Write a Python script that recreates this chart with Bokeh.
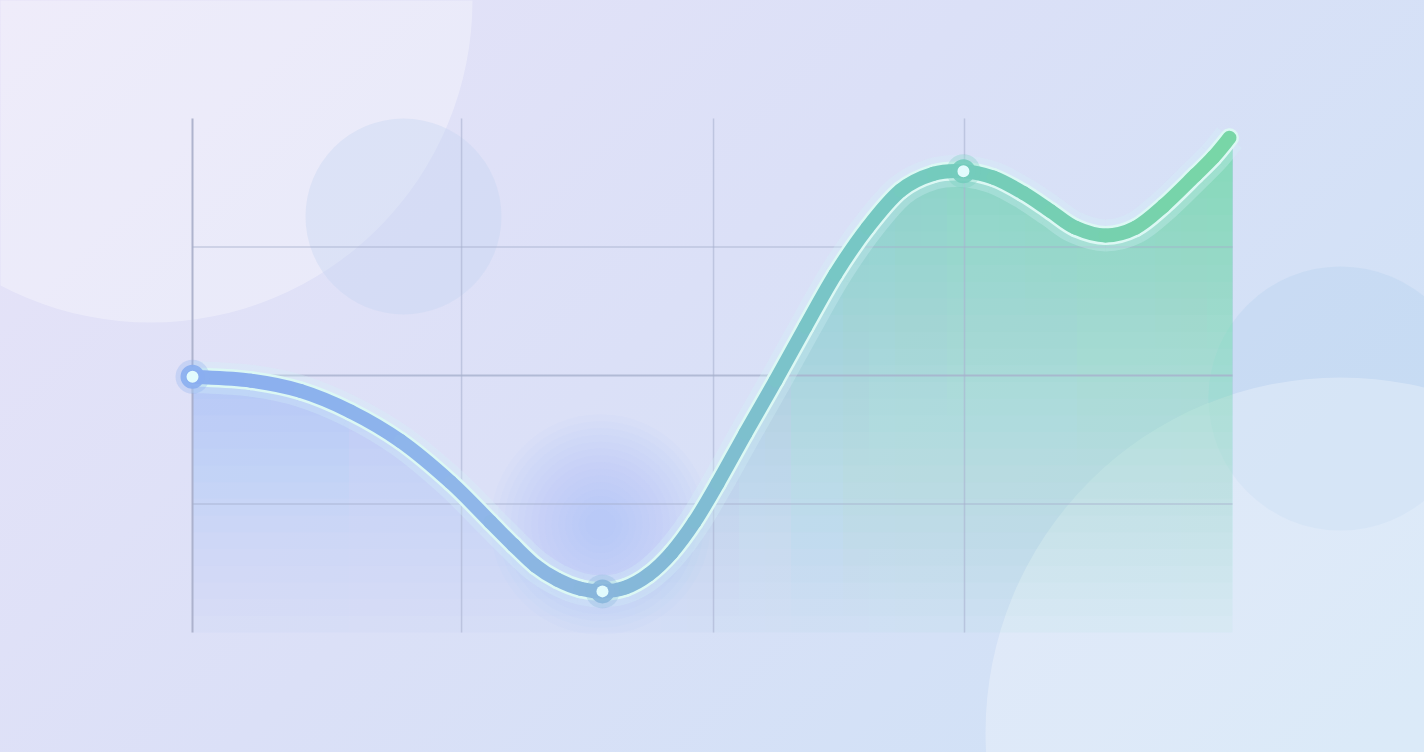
import numpy as np
from bokeh.plotting import figure
from bokeh.models import Range1d, GlobalInlineStyleSheet
from bokeh.embed import file_html
from bokeh.resources import INLINE

# ---------------- data ----------------
x_vals = [0.00, 5.58, 10.38, 15.19, 20.00, 24.81, 28.65, 30.87, 32.98, 35.10, 37.31,
          39.42, 41.63, 43.85, 46.06, 48.27, 50.48, 53.17, 56.06, 58.94, 61.83,
          64.90, 68.08, 71.25, 74.13, 77.02, 79.90, 82.50, 84.90, 87.79, 90.67,
          93.37, 96.44, 98.17, 99.71]
y_vals = [1.99, 1.96, 1.88, 1.72, 1.49, 1.17, 0.86, 0.68, 0.52, 0.41, 0.34,
          0.32, 0.35, 0.45, 0.62, 0.86, 1.16, 1.55, 1.96, 2.38, 2.79,
          3.15, 3.44, 3.57, 3.59, 3.54, 3.42, 3.28, 3.15, 3.09, 3.15,
          3.32, 3.56, 3.70, 3.85]
marker_x = [0.0, 39.42, 74.13]
marker_y = [1.99, 0.32, 3.59]
grid_x = [0.0, 25.87, 50.10, 74.23]
grid_y = [1, 2, 3]
y_min, y_max = 0, 4
x_min, x_max = 0, 100

# ---------------- layout ----------------
W, H = 1424, 752
PX_X, PX_Y = 10.4, 128.5      # pixels per data unit
X0, Y0 = 192, 632             # page pixel of the data origin

p = figure(width=W, height=H, output_backend="svg", toolbar_location=None,
           x_range=Range1d(-X0 / PX_X, (W - X0) / PX_X),
           y_range=Range1d(-(H - Y0) / PX_Y, Y0 / PX_Y),
           x_axis_type=None, y_axis_type=None, min_border=0,
           background_fill_color=None, border_fill_color=None,
           outline_line_color=None)
p.grid.visible = False
p.stylesheets = [GlobalInlineStyleSheet(css=(
    "body{background:linear-gradient(135deg,#e7e3f8 0%,#dbe0f7 45%,#cde2f6 100%) fixed;}"))]


def sx(X):   # page pixel -> data x
    return (X - X0) / PX_X


def sy(Y):   # page pixel -> data y
    return (Y0 - Y) / PX_Y


def hex2rgb(h):
    return [int(h[i:i + 2], 16) for i in (1, 3, 5)]


def mix(stops, x):
    xs = [s[0] for s in stops]
    cols = [hex2rgb(s[1]) for s in stops]
    rgb = [np.interp(x, xs, [c[k] for c in cols]) for k in range(3)]
    return "#%02x%02x%02x" % tuple(int(round(v)) for v in rgb)


line_stops = [(0, "#8aaef0"), (26, "#8fb6ea"), (39.4, "#88b6dc"), (50, "#80bcd2"),
              (61.5, "#78c6c6"), (74, "#74ccbc"), (87, "#76d0b0"), (100, "#78d6a6")]
fill_stops = [(0, "#88b4f4"), (26, "#96b8f2"), (40, "#9ab6f0"), (50, "#86c4e2"),
              (60, "#7cd2cc"), (74, "#78dabe"), (100, "#74e0b0")]

# ---------------- decorative background circles ----------------
decor = [(150, 0, 322, "#ffffff", 0.32),
         (403, 216, 98, "#c2d4f2", 0.35),
         (1340, 398, 132, "#b4d0ee", 0.35),
         (1340, 732, 355, "#ffffff", 0.28)]
for X, Y, r, c, a in decor:
    p.scatter([sx(X)], [sy(Y)], size=2 * r, marker="circle",
              fill_color=c, fill_alpha=a, line_color=None)

# soft purple glow inside the dip
for d in np.linspace(220, 30, 15):
    p.scatter([sx(600)], [sy(524)], size=float(d), marker="circle",
              fill_color="#a8aef4", fill_alpha=0.045, line_color=None)

# ---------------- area fill ----------------
xa_arr = np.array(x_vals)
ya_arr = np.array(y_vals)


def clip_above(poly, L):
    out = []
    n = len(poly)
    for i in range(n):
        cx, cy = poly[i]
        px, py = poly[i - 1]
        cin, pin = cy >= L, py >= L
        if cin:
            if not pin:
                t = (L - py) / (cy - py)
                out.append((px + t * (cx - px), L))
            out.append((cx, cy))
        elif pin:
            t = (L - py) / (cy - py)
            out.append((px + t * (cx - px), L))
    return out


n_lev = 30
step = 3.9 / n_lev
levels = [y_min + k * step for k in range(n_lev)]
targets = [0.06 + 0.72 * (lv / 3.8) for lv in levels]
alphas = []
prev = 0.0
for A in targets:
    alphas.append(1 - (1 - A) / (1 - prev))
    prev = A

# column edges on half-pixel positions (avoids seams between neighbours)
edge_px = [192] + [192 + 26 * k + 0.5 for k in range(1, 40)] + [1232]
edges = [sx(e) for e in edge_px]
pxs, pys, pcs, pas = [], [], [], []
for k, L in enumerate(levels):
    for j in range(len(edges) - 1):
        a0, a1 = edges[j], edges[j + 1]
        pts = [(a0, L - 1), (a0, float(np.interp(a0, xa_arr, ya_arr)))]
        pts += [(x, y) for x, y in zip(x_vals, y_vals) if a0 < x < a1]
        pts += [(a1, float(np.interp(a1, xa_arr, ya_arr))), (a1, L - 1)]
        poly = clip_above(pts, L)
        if len(poly) < 3:
            continue
        pxs.append([q[0] for q in poly])
        pys.append([q[1] for q in poly])
        pcs.append(mix(fill_stops, (a0 + a1) / 2))
        pas.append(alphas[k])
p.patches(pxs, pys, fill_color=pcs, fill_alpha=pas, line_color=None)

# ---------------- grid ----------------
p.segment(x0=grid_x[1:], y0=[y_min] * 3, x1=grid_x[1:], y1=[y_max] * 3,
          line_color="#aab2d0", line_width=1.5, line_alpha=0.6)
p.segment(x0=[grid_x[0]], y0=[y_min], x1=[grid_x[0]], y1=[y_max],
          line_color="#a4aac6", line_width=2, line_alpha=0.85)
p.segment(x0=[x_min] * 3, y0=grid_y, x1=[x_max] * 3, y1=grid_y,
          line_color="#a6b0cc", line_width=[1.3, 2, 1.3], line_alpha=[0.55, 0.8, 0.55])

# ---------------- curve (smooth cubic pieces through the data points) ----------------
n = len(x_vals)
bx0, by0, bx1, by1, c0x, c0y, c1x, c1y, bcol = [], [], [], [], [], [], [], [], []
for i in range(n - 1):
    i0, i3 = max(i - 1, 0), min(i + 2, n - 1)
    bx0.append(x_vals[i]); by0.append(y_vals[i])
    bx1.append(x_vals[i + 1]); by1.append(y_vals[i + 1])
    c0x.append(x_vals[i] + (x_vals[i + 1] - x_vals[i0]) / 6)
    c0y.append(y_vals[i] + (y_vals[i + 1] - y_vals[i0]) / 6)
    c1x.append(x_vals[i + 1] - (x_vals[i3] - x_vals[i]) / 6)
    c1y.append(y_vals[i + 1] - (y_vals[i3] - y_vals[i]) / 6)
    bcol.append(mix(line_stops, (x_vals[i] + x_vals[i + 1]) / 2))

p.bezier(x0=bx0, y0=by0, x1=bx1, y1=by1, cx0=c0x, cy0=c0y, cx1=c1x, cy1=c1y,
         line_color="#d4f2fa", line_width=32, line_alpha=0.3, line_cap="butt")
p.bezier(x0=bx0, y0=by0, x1=bx1, y1=by1, cx0=c0x, cy0=c0y, cx1=c1x, cy1=c1y,
         line_color="#dcf8f4", line_width=19, line_cap="round")
p.bezier(x0=bx0, y0=by0, x1=bx1, y1=by1, cx0=c0x, cy0=c0y, cx1=c1x, cy1=c1y,
         line_color=bcol, line_width=14, line_cap="round")

# ---------------- markers ----------------
mcols = [mix(line_stops, x) for x in marker_x]
p.scatter(marker_x, marker_y, size=34, marker="circle", fill_color=mcols,
          fill_alpha=0.3, line_color=None)
p.scatter(marker_x, marker_y, size=24, marker="circle", fill_color=mcols,
          fill_alpha=0.9, line_color=None)
p.scatter(marker_x, marker_y, size=12, marker="circle", fill_color="#e2fbfd",
          line_color=None)

open("out.html", "w").write(file_html(p, INLINE))
